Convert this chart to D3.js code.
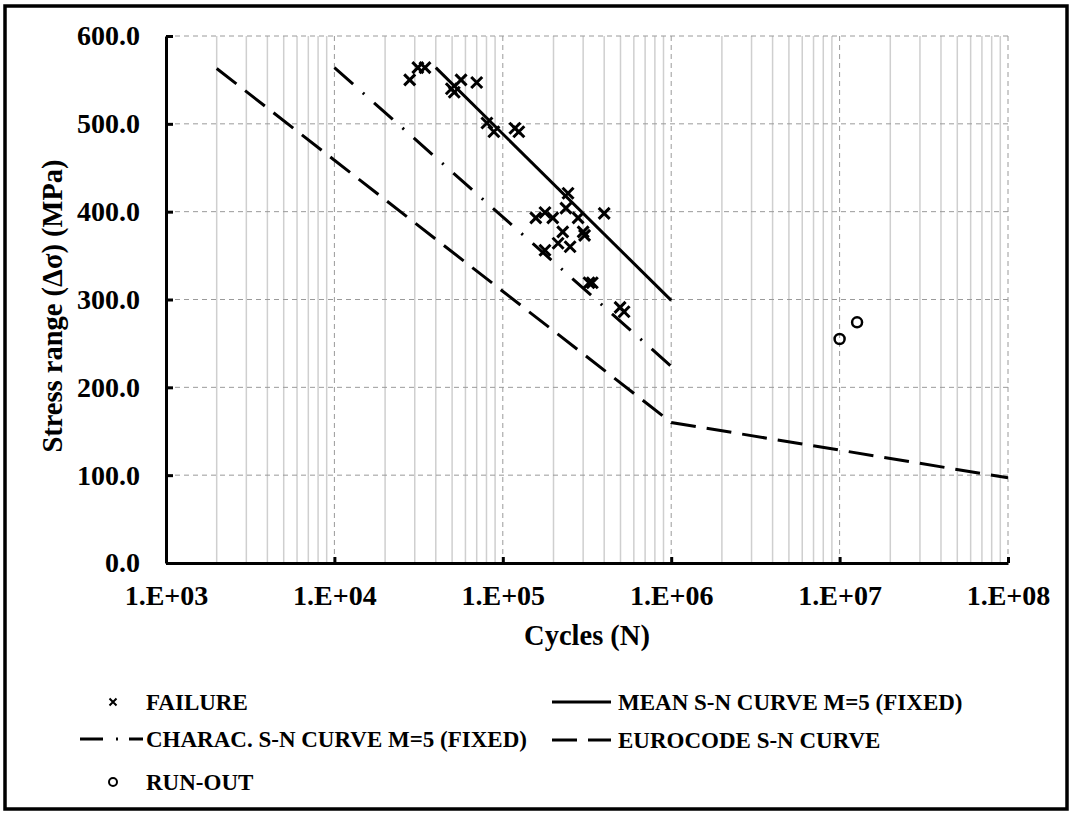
<!DOCTYPE html>
<html>
<head>
<meta charset="utf-8">
<script src="https://cdn.jsdelivr.net/npm/d3@7"></script>
<style>
  body { margin: 0; background: #fff; }
</style>
</head>
<body>
<script>
// failure points: cycles and stress range
var failureN = [28000, 31300, 34500, 56500, 49500, 51500, 70000, 80500, 88500, 118000, 124500,
  244000, 237000, 178000, 157000, 198000, 280000, 400000, 227000, 300000, 306000,
  213000, 251000, 178000, 325000, 340000, 497000, 525000];
var failureS = [550, 564, 564, 550, 540, 536, 547, 501, 491, 495, 491,
  421, 404, 399, 393, 393, 393, 398, 377, 377, 373,
  364, 360, 356, 319, 319, 291, 286];

var runoutN = [1.0e7, 1.27e7];
var runoutS = [255, 274];

var meanN = [4.0e4, 1.0e6];
var meanS = [564, 299];
var characN = [1.0e4, 1.0e6];
var characS = [564, 224];
var eurocodeN = [2.0e3, 1.0e6, 1.0e8];
var eurocodeS = [563, 160, 97];

var xTicks = [1e3, 1e4, 1e5, 1e6, 1e7, 1e8];
var yTicks = [0, 100, 200, 300, 400, 500, 600];

var W = 1072, H = 814;
var FONT = "'Liberation Serif'";

var svg = d3.select("body").append("svg")
  .attr("width", W)
  .attr("height", H);

var x = d3.scaleLog().domain([1e3, 1e8]).range([166, 1008]);
var y = d3.scaleLinear().domain([0, 600]).range([563, 36]);

function label(sel, size) {
  return sel.style("font-family", FONT).style("font-weight", "bold").style("font-size", size).attr("fill", "#000");
}

// outer frame
svg.append("rect")
  .attr("x", 5).attr("y", 6).attr("width", 1062).attr("height", 803)
  .attr("fill", "none").attr("stroke", "#000").attr("stroke-width", 3.5);

// minor vertical grid
var minor = [];
for (var k = 3; k < 8; k++) {
  for (var m = 2; m <= 9; m++) minor.push(m * Math.pow(10, k));
}
svg.append("g").selectAll("line").data(minor).enter().append("line")
  .attr("x1", function(d) { return x(d); }).attr("x2", function(d) { return x(d); })
  .attr("y1", y(600)).attr("y2", y(0))
  .attr("stroke", "#cfcfcf").attr("stroke-width", 1.5);

// major grid (dashed)
svg.append("g").selectAll("line").data(xTicks.slice(1)).enter().append("line")
  .attr("x1", function(d) { return x(d); }).attr("x2", function(d) { return x(d); })
  .attr("y1", y(600)).attr("y2", y(0))
  .attr("stroke", "#9a9a9a").attr("stroke-width", 1).attr("stroke-dasharray", "5,4");
svg.append("g").selectAll("line").data(yTicks.slice(1)).enter().append("line")
  .attr("x1", x(1e3)).attr("x2", x(1e8))
  .attr("y1", function(d) { return y(d); }).attr("y2", function(d) { return y(d); })
  .attr("stroke", "#9a9a9a").attr("stroke-width", 1).attr("stroke-dasharray", "5,4");

// axes
var yAxis = svg.append("g")
  .attr("transform", "translate(" + x(1e3) + ",0)")
  .call(d3.axisLeft(y).tickValues(yTicks).tickSize(-7).tickSizeOuter(0).tickPadding(26)
    .tickFormat(d3.format(".1f")));
var xAxis = svg.append("g")
  .attr("transform", "translate(0," + y(0) + ")")
  .call(d3.axisBottom(x).tickValues(xTicks).tickSize(-6).tickSizeOuter(0).tickPadding(22)
    .tickFormat(function(d) { return "1.E+0" + Math.round(Math.log10(d)); }));
[yAxis, xAxis].forEach(function(a) {
  a.attr("font-family", null).attr("font-size", null);
  a.select(".domain").attr("stroke", "#000").attr("stroke-width", 3);
  a.selectAll(".tick line").attr("stroke", "#000").attr("stroke-width", 3);
  label(a.selectAll(".tick text"), "28px");
});

// axis titles
label(svg.append("text"), "28.5px")
  .attr("x", 587).attr("y", 645)
  .attr("text-anchor", "middle")
  .text("Cycles (N)");
label(svg.append("text"), "28.5px")
  .attr("transform", "translate(62,306) rotate(-90)")
  .attr("text-anchor", "middle")
  .text("Stress range (Δσ) (MPa)");

// curves
var line = d3.line().x(function(d) { return x(d[0]); }).y(function(d) { return y(d[1]); });
var dashEuro = "25,11", dashCharac = "25,13,2,13";

svg.append("path")
  .datum(d3.zip(eurocodeN, eurocodeS))
  .attr("d", line).attr("fill", "none").attr("stroke", "#000").attr("stroke-width", 3)
  .attr("stroke-dasharray", dashEuro);
svg.append("path")
  .datum(d3.zip(characN, characS))
  .attr("d", line).attr("fill", "none").attr("stroke", "#000").attr("stroke-width", 3)
  .attr("stroke-dasharray", dashCharac);
svg.append("path")
  .datum(d3.zip(meanN, meanS))
  .attr("d", line).attr("fill", "none").attr("stroke", "#000").attr("stroke-width", 3);

// failure crosses
var cross = function(s) { return "M" + (-s) + "," + (-s) + "L" + s + "," + s + "M" + (-s) + "," + s + "L" + s + "," + (-s); };
svg.append("g").selectAll("path").data(d3.zip(failureN, failureS)).enter().append("path")
  .attr("transform", function(d) { return "translate(" + x(d[0]) + "," + y(d[1]) + ")"; })
  .attr("d", cross(5.5)).attr("stroke", "#000").attr("stroke-width", 3);

// run-outs
svg.append("g").selectAll("circle").data(d3.zip(runoutN, runoutS)).enter().append("circle")
  .attr("cx", function(d) { return x(d[0]); }).attr("cy", function(d) { return y(d[1]); })
  .attr("r", 5).attr("fill", "none").attr("stroke", "#000").attr("stroke-width", 2.5);

// legend
var leg = svg.append("g");
var legFont = "23px";
leg.append("path").attr("transform", "translate(113,702)").attr("d", cross(3.5))
  .attr("stroke", "#000").attr("stroke-width", 2);
label(leg.append("text"), legFont).attr("x", 146).attr("y", 710).text("FAILURE");

leg.append("line").attr("x1", 80).attr("x2", 143).attr("y1", 739).attr("y2", 739)
  .attr("stroke", "#000").attr("stroke-width", 3).attr("stroke-dasharray", "23,13,2,11");
label(leg.append("text"), legFont).attr("x", 146).attr("y", 747).text("CHARAC. S-N CURVE M=5 (FIXED)");

leg.append("circle").attr("cx", 113).attr("cy", 782).attr("r", 4)
  .attr("fill", "none").attr("stroke", "#000").attr("stroke-width", 2);
label(leg.append("text"), legFont).attr("x", 146).attr("y", 790).text("RUN-OUT");

leg.append("line").attr("x1", 552).attr("x2", 611).attr("y1", 702).attr("y2", 702)
  .attr("stroke", "#000").attr("stroke-width", 3);
label(leg.append("text"), legFont).attr("x", 618).attr("y", 710).text("MEAN S-N CURVE M=5 (FIXED)");

leg.append("line").attr("x1", 552).attr("x2", 611).attr("y1", 740).attr("y2", 740)
  .attr("stroke", "#000").attr("stroke-width", 3).attr("stroke-dasharray", "25,11");
label(leg.append("text"), legFont).attr("x", 618).attr("y", 748).text("EUROCODE S-N CURVE");
</script>
</body>
</html>
